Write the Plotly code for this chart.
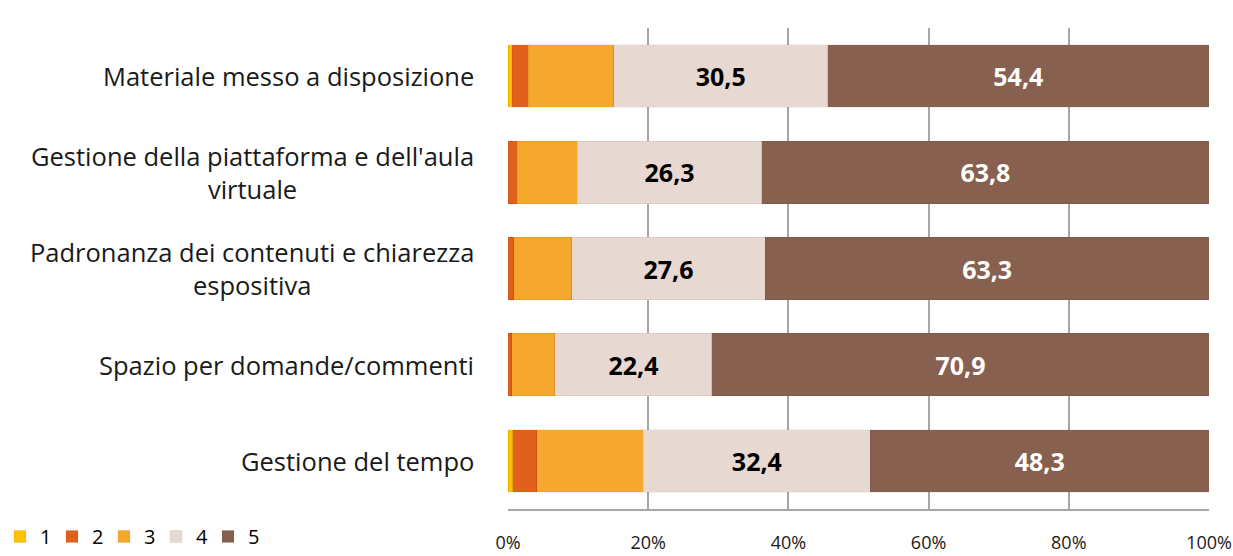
import plotly.graph_objects as go

categories = [
    "Materiale messo a disposizione",
    "Gestione della piattaforma e dell'aula<br>virtuale",
    "Padronanza dei contenuti e chiarezza<br>espositiva",
    "Spazio per domande/commenti",
    "Gestione del tempo",
]
series_names = ["1", "2", "3", "4", "5"]
v1 = [0.6, 0.0, 0.0, 0.0, 0.7]
v2 = [2.3, 1.3, 0.8, 0.5, 3.4]
v3 = [12.2, 8.6, 8.3, 6.2, 15.2]
v4 = [30.5, 26.3, 27.6, 22.4, 32.4]
v5 = [54.4, 63.8, 63.3, 70.9, 48.3]
x_ticks = [0, 20, 40, 60, 80, 100]
x_tick_labels = ["0%", "20%", "40%", "60%", "80%", "100%"]

colors = ["#FFC000", "#E0601C", "#F5A72E", "#E8D8D2", "#87604F"]
text_colors = [None, None, None, "#000000", "#FFFFFF"]
show_text = [False, False, False, True, True]

FONT = "Open Sans"

fig = go.Figure()
for name, vals, col, tcol, st in zip(series_names, [v1, v2, v3, v4, v5], colors, text_colors, show_text):
    fig.add_trace(go.Bar(
        y=categories, x=vals, name=name, orientation="h",
        marker=dict(color=col, line=dict(color="rgba(0,0,0,0.12)", width=0.5)),
        text=[f"{v:.1f}".replace(".", ",") for v in vals] if st else None,
        textposition="inside" if st else "none",
        insidetextanchor="middle",
        textangle=0,
        textfont=dict(family=FONT, size=25, color=tcol if tcol else "#000", weight="bold"),
        constraintext="none",
        hoverinfo="x+name",
    ))

for cat in categories:
    fig.add_annotation(
        x=0, xref="paper", y=cat, yref="y", xanchor="right", xshift=-32,
        text=cat, showarrow=False, align="center",
        font=dict(family=FONT, size=25.5, color="#1a1a1a"),
    )

fig.update_layout(
    width=1233, height=556,
    barmode="stack", bargap=0.35,
    paper_bgcolor="white", plot_bgcolor="white",
    margin=dict(l=508, r=24, t=28, b=47, autoexpand=False),
    font=dict(family=FONT, color="#1a1a1a"),
    legend=dict(
        orientation="h", xref="container", yref="container",
        x=-0.006, y=-0.021, xanchor="left", yanchor="bottom",
        font=dict(family=FONT, size=20, color="#000"),
        entrywidth=7, entrywidthmode="pixels", traceorder="normal",
        itemwidth=30,
    ),
    xaxis=dict(
        range=[0, 100], tickvals=x_ticks, ticktext=x_tick_labels,
        showgrid=True, gridcolor="#A6A6A6", gridwidth=1.5,
        showline=True, linecolor="#A6A6A6", linewidth=1.5,
        tickfont=dict(family=FONT, size=18, color="#1a1a1a"),
        ticklabelstandoff=17, zeroline=False, fixedrange=True,
    ),
    yaxis=dict(
        autorange="reversed", showticklabels=False, showgrid=False,
        showline=False, fixedrange=True,
    ),
)

fig.write_html(
    "out.html",
    config={"displayModeBar": False},
    post_script="document.body.style.margin='0';document.body.style.overflow='hidden';",
)
